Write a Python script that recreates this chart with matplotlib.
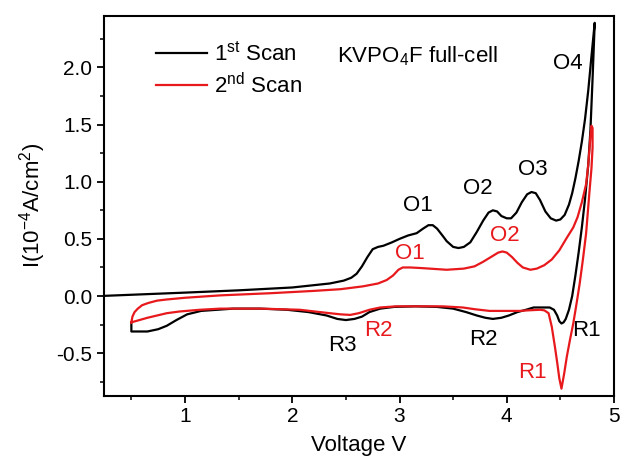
import matplotlib
matplotlib.use("Agg")
import matplotlib.pyplot as plt
from matplotlib.ticker import MultipleLocator

plt.rcParams['font.family'] = ['Liberation Sans', 'DejaVu Sans']
plt.rcParams['mathtext.fontset'] = 'custom'
plt.rcParams['mathtext.rm'] = 'Liberation Sans'
plt.rcParams['mathtext.it'] = 'Liberation Sans:italic'

# 1st scan: charge from OCV up to 4.8 V, then discharge back to 0.5 V
scan1_v = [0.20, 1.00, 1.50, 2.00, 2.35, 2.48, 2.55, 2.60, 2.65, 2.70, 2.75, 2.80, 2.85, 2.93,
           3.00, 3.08, 3.16, 3.22, 3.27, 3.31, 3.35, 3.40, 3.44, 3.50, 3.55, 3.60, 3.66, 3.72,
           3.78, 3.83, 3.87, 3.91, 3.95, 4.00, 4.04, 4.09, 4.14, 4.19, 4.23, 4.27, 4.31, 4.36,
           4.41, 4.46, 4.50, 4.54, 4.58, 4.61, 4.64, 4.67, 4.70, 4.73, 4.76, 4.79, 4.82,
           4.80, 4.78, 4.76, 4.73, 4.70, 4.67, 4.64, 4.61, 4.58, 4.55, 4.53, 4.51, 4.49, 4.47,
           4.44, 4.40, 4.33, 4.25, 4.18, 4.10, 4.02, 3.95, 3.87, 3.80, 3.72, 3.62, 3.50, 3.35,
           3.15, 2.95, 2.82, 2.72, 2.65, 2.58, 2.50, 2.42, 2.32, 2.15, 1.95, 1.70, 1.45, 1.30,
           1.15, 1.02, 0.92, 0.83, 0.75, 0.65, 0.55, 0.50, 0.50]
scan1_i = [0.000, 0.030, 0.050, 0.075, 0.110, 0.135, 0.160, 0.195, 0.260, 0.340, 0.410, 0.430, 0.440, 0.470,
           0.500, 0.530, 0.550, 0.590, 0.620, 0.620, 0.590, 0.530, 0.480, 0.430, 0.420, 0.430, 0.470, 0.560,
           0.660, 0.730, 0.750, 0.740, 0.700, 0.680, 0.680, 0.730, 0.820, 0.890, 0.910, 0.900, 0.840, 0.740,
           0.680, 0.660, 0.670, 0.710, 0.800, 0.900, 1.030, 1.180, 1.350, 1.550, 1.800, 2.100, 2.390,
           1.900, 1.450, 1.150, 0.850, 0.600, 0.380, 0.180, 0.000, -0.120, -0.200, -0.230, -0.240, -0.220, -0.170,
           -0.120, -0.100, -0.100, -0.100, -0.120, -0.140, -0.170, -0.190, -0.200, -0.190, -0.170, -0.140, -0.110, -0.095,
           -0.090, -0.095, -0.110, -0.140, -0.180, -0.200, -0.210, -0.200, -0.170, -0.140, -0.120, -0.110, -0.110, -0.120,
           -0.130, -0.160, -0.210, -0.260, -0.290, -0.310, -0.310, -0.310, -0.230]

# 2nd scan
scan2_v = [0.50, 0.51, 0.53, 0.56, 0.60, 0.66, 0.74, 0.83, 1.00, 1.33, 1.80, 2.20, 2.45, 2.66,
           2.80, 2.88, 2.94, 2.99, 3.03, 3.10, 3.20, 3.44, 3.60, 3.70, 3.78, 3.85, 3.92, 3.96,
           4.00, 4.05, 4.10, 4.15, 4.22, 4.28, 4.35, 4.42, 4.49, 4.56, 4.62, 4.66, 4.70, 4.74,
           4.76, 4.77, 4.78, 4.79, 4.80, 4.80, 4.79, 4.77, 4.74, 4.71, 4.68, 4.65, 4.62, 4.59,
           4.56, 4.535, 4.51, 4.49, 4.47, 4.45, 4.42, 4.39, 4.35, 4.31, 4.20, 4.12, 3.84, 3.70,
           3.59, 3.40, 3.20, 2.97, 2.82, 2.72, 2.62, 2.54, 2.45, 2.35, 2.07, 1.70, 1.33, 1.14,
           0.95, 0.83, 0.65, 0.50]
scan2_i = [-0.230, -0.180, -0.140, -0.110, -0.080, -0.060, -0.040, -0.030, -0.015, 0.006, 0.025, 0.045, 0.060, 0.085,
           0.110, 0.140, 0.180, 0.230, 0.250, 0.250, 0.245, 0.230, 0.240, 0.260, 0.300, 0.340, 0.380, 0.390,
           0.380, 0.340, 0.290, 0.250, 0.230, 0.240, 0.270, 0.320, 0.400, 0.510, 0.600, 0.690, 0.820, 0.980,
           1.150, 1.270, 1.400, 1.490, 1.470, 1.300, 1.120, 0.900, 0.550, 0.320, 0.110, -0.070, -0.240, -0.380,
           -0.530, -0.680, -0.810, -0.720, -0.580, -0.450, -0.270, -0.150, -0.125, -0.120, -0.125, -0.130, -0.130, -0.115,
           -0.100, -0.090, -0.090, -0.090, -0.100, -0.120, -0.150, -0.165, -0.160, -0.150, -0.120, -0.110, -0.110, -0.120,
           -0.135, -0.150, -0.190, -0.230]

black_labels = ["O1", "O2", "O3", "O4", "R1", "R2", "R3"]
black_lx = [3.17, 3.73, 4.24, 4.57, 4.74, 3.78, 2.47]
black_ly = [0.79, 0.94, 1.11, 2.03, -0.30, -0.38, -0.43]
red_labels = ["O1", "O2", "R1", "R2"]
red_lx = [3.10, 3.98, 4.24, 2.80]
red_ly = [0.37, 0.53, -0.67, -0.30]

fig = plt.figure(figsize=(6.24, 4.70), dpi=100)
ax = fig.add_axes([0.1667, 0.1585, 0.8173, 0.8075])

ax.plot(scan1_v, scan1_i, color="black", lw=1.6, label=r"$\mathregular{1^{st}}$ Scan")
ax.plot(scan2_v, scan2_i, color="#e8191c", lw=1.6, label=r"$\mathregular{2^{nd}}$ Scan")

for t, x, y in zip(black_labels, black_lx, black_ly):
    ax.text(x, y, t, color="black", fontsize=16, ha="center", va="center")
for t, x, y in zip(red_labels, red_lx, red_ly):
    ax.text(x, y, t, color="#e8191c", fontsize=16, ha="center", va="center")

ax.text(0.457, 0.895, r"KVPO$_\mathregular{4}$F full-cell", transform=ax.transAxes,
        fontsize=16, ha="left", va="center")

ax.legend(loc="upper left", bbox_to_anchor=(0.085, 0.955), frameon=False, fontsize=16,
          handlelength=2.3, handletextpad=0.3, labelspacing=0.3, borderaxespad=0)

ax.set_xlim(0.245, 5.0)
ax.set_ylim(-0.87, 2.45)
ax.xaxis.set_major_locator(MultipleLocator(1))
ax.xaxis.set_minor_locator(MultipleLocator(0.5))
ax.yaxis.set_major_locator(MultipleLocator(0.5))
ax.yaxis.set_minor_locator(MultipleLocator(0.25))
ax.set_xticks([1, 2, 3, 4, 5])
ax.set_yticks([-0.5, 0.0, 0.5, 1.0, 1.5, 2.0])
ax.set_yticklabels(["-0.5", "0.0", "0.5", "1.0", "1.5", "2.0"])
ax.tick_params(which="major", direction="out", length=5, width=1.3, labelsize=15)
ax.tick_params(which="minor", direction="out", length=3, width=1.1)
for s in ax.spines.values():
    s.set_linewidth(1.5)

ax.set_xlabel("Voltage V", fontsize=16, labelpad=6)
ax.set_ylabel(r"I(10$^\mathregular{-4}$A/cm$^\mathregular{2}$)", fontsize=16, labelpad=6)

fig.savefig("out.png", dpi=100)
